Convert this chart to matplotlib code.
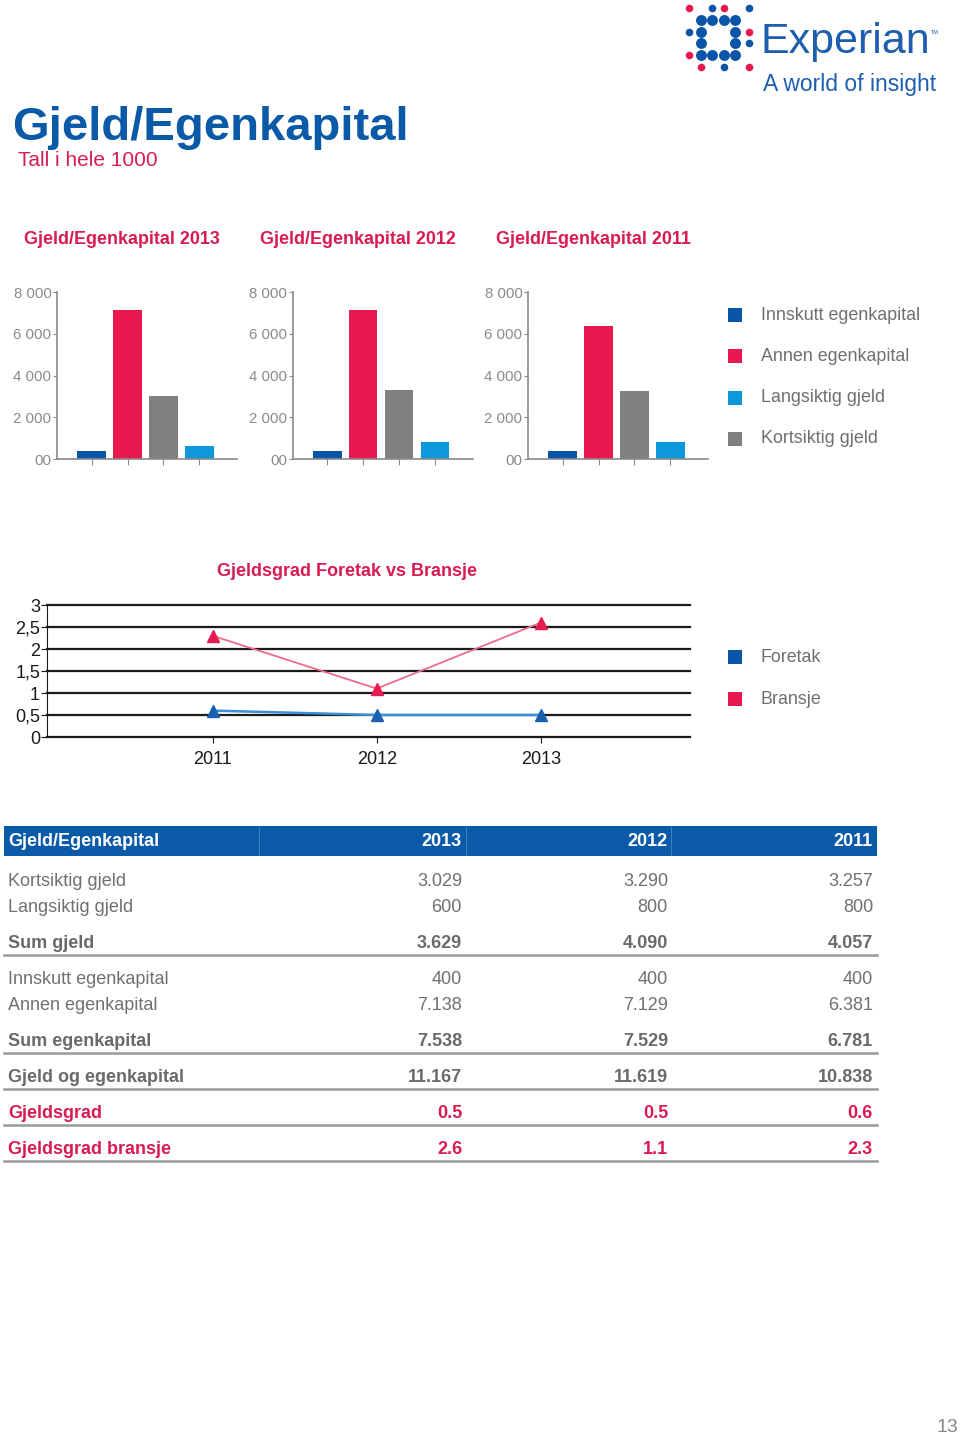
import matplotlib
matplotlib.use("Agg")
import matplotlib.pyplot as plt
from matplotlib.patches import Rectangle
from matplotlib.ticker import FuncFormatter

plt.rcParams["font.family"] = ["Liberation Sans", "DejaVu Sans"]

W, H = 960, 1436

# ---- data ----
bar_years = ["2013", "2012", "2011"]
bar_labels = ["Innskutt egenkapital", "Annen egenkapital", "Kortsiktig gjeld", "Langsiktig gjeld"]
bar_values = {
    "2013": [400, 7138, 3029, 600],
    "2012": [400, 7129, 3290, 800],
    "2011": [400, 6381, 3257, 800],
}
legend_order = ["Innskutt egenkapital", "Annen egenkapital", "Langsiktig gjeld", "Kortsiktig gjeld"]

line_years = ["2011", "2012", "2013"]
foretak = [0.6, 0.5, 0.5]
bransje = [2.3, 1.1, 2.6]

table_cols = ["2013", "2012", "2011"]
table_rows = [
    ("Kortsiktig gjeld", ["3.029", "3.290", "3.257"], "plain"),
    ("Langsiktig gjeld", ["600", "800", "800"], "plain"),
    ("Sum gjeld", ["3.629", "4.090", "4.057"], "sum"),
    ("Innskutt egenkapital", ["400", "400", "400"], "plain"),
    ("Annen egenkapital", ["7.138", "7.129", "6.381"], "plain"),
    ("Sum egenkapital", ["7.538", "7.529", "6.781"], "sum"),
    ("Gjeld og egenkapital", ["11.167", "11.619", "10.838"], "sum"),
    ("Gjeldsgrad", ["0.5", "0.5", "0.6"], "red"),
    ("Gjeldsgrad bransje", ["2.6", "1.1", "2.3"], "red"),
]

# ---- colours ----
DARK_BLUE = "#0b55a8"
RED = "#e8194f"
GREY = "#808080"
LIGHT_BLUE = "#0d98dc"
TEXT_RED = "#d81b50"
TEXT_GREY = "#707070"
colors = {
    "Innskutt egenkapital": DARK_BLUE,
    "Annen egenkapital": RED,
    "Kortsiktig gjeld": GREY,
    "Langsiktig gjeld": LIGHT_BLUE,
}

fig = plt.figure(figsize=(W / 100, H / 100), dpi=100)
page = fig.add_axes([0, 0, 1, 1])
page.set_xlim(0, W)
page.set_ylim(H, 0)
page.axis("off")


def px_axes(left, top, right, bottom):
    return fig.add_axes([left / W, 1 - bottom / H, (right - left) / W, (bottom - top) / H])


# ---- logo ----
big = [(701, 20), (712, 20), (724, 20), (735, 20), (701, 32), (735, 32),
       (701, 43), (735, 43), (701, 55), (712, 55), (724, 55), (735, 55)]
small_blue = [(712, 8), (749, 8), (689, 32), (749, 43), (724, 67)]
small_red = [(689, 8), (724, 8), (749, 32), (689, 55), (701, 67), (749, 67)]
page.scatter([p[0] for p in big], [p[1] for p in big], s=62, color=DARK_BLUE, lw=0)
page.scatter([p[0] for p in small_blue], [p[1] for p in small_blue], s=30, color=DARK_BLUE, lw=0)
page.scatter([p[0] for p in small_red], [p[1] for p in small_red], s=30, color=RED, lw=0)
page.text(760, 42, "Experian", fontsize=31, color="#1d5fae", va="center", ha="left")
page.text(931, 33, "TM", fontsize=4, color="#1d5fae", va="center", ha="left")
page.text(763, 85, "A world of insight", fontsize=16.5, color="#1d5fae", va="center", ha="left")

# ---- titles ----
page.text(12, 128, "Gjeld/Egenkapital", fontsize=34, fontweight="bold", color="#0b5aa8",
          va="center", ha="left")
page.text(18, 160, "Tall i hele 1000", fontsize=15, color=TEXT_RED, va="center", ha="left")

# ---- bar charts ----
for i, yr in enumerate(bar_years):
    x0 = 57 + i * 235.5
    page.text(24 + i * 236, 240, f"Gjeld/Egenkapital {yr}", fontsize=12.9, fontweight="bold",
              color=TEXT_RED, va="center", ha="left")
    ax = px_axes(x0, 292, x0 + 180, 459)
    vals = bar_values[yr]
    ax.bar(range(4), vals, width=0.8, color=[colors[l] for l in bar_labels])
    ax.set_xlim(-0.97, 4.05)
    ax.set_ylim(0, 8000)
    ax.set_yticks([0, 2000, 4000, 6000, 8000])
    ax.yaxis.set_major_formatter(FuncFormatter(
        lambda v, p: "00" if v == 0 else f"{int(v):,}".replace(",", " ")))
    ax.set_xticks(range(4))
    ax.set_xticklabels([])
    for s in ["top", "right"]:
        ax.spines[s].set_visible(False)
    for s in ["left", "bottom"]:
        ax.spines[s].set_color("#8a8a8a")
        ax.spines[s].set_linewidth(1.2)
    ax.tick_params(axis="y", colors="#8a8a8a", labelcolor="#8a8a8a", labelsize=10.8,
                   length=3, pad=1)
    ax.tick_params(axis="x", colors="#8a8a8a", length=4)
    ax.patch.set_alpha(0)

# bar legend
for j, lab in enumerate(legend_order):
    y = 315 + j * 41.3
    page.add_patch(Rectangle((728, y - 7), 14, 14, color=colors[lab], lw=0))
    page.text(761, y, lab, fontsize=12.9, color=TEXT_GREY, va="center", ha="left")

# ---- line chart ----
page.text(347, 571, "Gjeldsgrad Foretak vs Bransje", fontsize=13, fontweight="bold",
          color=TEXT_RED, va="center", ha="center")
lax = px_axes(47, 605, 690, 737)
xs = range(len(line_years))
lax.plot(xs, bransje, color="#f06a8c", lw=1.3, marker="^", ms=8,
         mfc=RED, mec=RED, zorder=3)
lax.plot(xs, foretak, color="#3b8fd8", lw=1.8, marker="^", ms=8,
         mfc="#1a5fb0", mec="#1a5fb0", zorder=3)
lax.set_xlim(-1.01, 2.91)
lax.set_ylim(0, 3)
lax.set_yticks([0, 0.5, 1, 1.5, 2, 2.5, 3])
lax.set_yticklabels(["0", "0,5", "1", "1,5", "2", "2,5", "3"])
lax.set_xticks(list(xs))
lax.set_xticklabels(line_years)
for yv in [0.5, 1, 1.5, 2, 2.5, 3]:
    lax.axhline(yv, color="#1a1a1a", lw=1.6, zorder=1, clip_on=False)
for s in ["top", "right"]:
    lax.spines[s].set_visible(False)
lax.spines["left"].set_color("#1a1a1a")
lax.spines["bottom"].set_color("#1a1a1a")
lax.spines["bottom"].set_linewidth(1.6)
lax.tick_params(axis="y", labelsize=13, length=4, pad=1, colors="#1a1a1a")
lax.tick_params(axis="x", labelsize=13, length=4, pad=6, colors="#1a1a1a")
lax.patch.set_alpha(0)

for j, (lab, c) in enumerate([("Foretak", DARK_BLUE), ("Bransje", RED)]):
    y = 657 + j * 42
    page.add_patch(Rectangle((728, y - 7), 14, 14, color=c, lw=0))
    page.text(761, y, lab, fontsize=12.9, color=TEXT_GREY, va="center", ha="left")

# ---- table ----
page.add_patch(Rectangle((4, 826), 873, 30, color="#0a5aa8", lw=0))
for xs_ in [259, 466, 671]:
    page.plot([xs_, xs_], [827, 855], color="#3d7dc0", lw=0.8)
page.text(8, 842, "Gjeld/Egenkapital", fontsize=13, fontweight="bold", color="white",
          va="center", ha="left")
col_right = [462, 668, 873]
for c, xr in zip(table_cols, col_right):
    page.text(xr, 842, c, fontsize=13, fontweight="bold", color="white",
              va="center", ha="right")

row_y = [882, 908, 944, 980, 1006, 1042, 1078, 1114, 1150]
for (lab, vals, kind), y in zip(table_rows, row_y):
    if kind == "plain":
        col, fw = TEXT_GREY, "normal"
    elif kind == "sum":
        col, fw = "#6a6a6a", "bold"
    else:
        col, fw = TEXT_RED, "bold"
    page.text(8, y, lab, fontsize=13, fontweight=fw, color=col, va="center", ha="left")
    for v, xr in zip(vals, col_right):
        page.text(xr, y, v, fontsize=13, fontweight=fw, color=col, va="center", ha="right")
    if kind != "plain":
        page.plot([4, 877], [y + 11, y + 11], color="#9a9a9a", lw=1.8)

page.text(958, 1427, "13", fontsize=14, color="#888888", va="center", ha="right")

fig.savefig("out.png", dpi=100)
